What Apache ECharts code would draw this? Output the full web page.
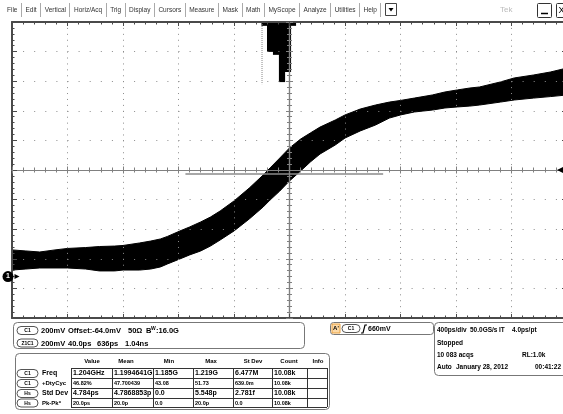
<!DOCTYPE html>
<html><head><meta charset="utf-8">
<script src="https://cdn.jsdelivr.net/npm/echarts@6/dist/echarts.min.js"></script>
<style>html,body{margin:0;padding:0;background:#fff}#c{width:563px;height:414px}</style>
</head><body><div id="c"></div>
<script>
// ---- data ----
const menuItems = ['File','Edit','Vertical','Horiz/Acq','Trig','Display','Cursors','Measure','Mask','Math','MyScope','Analyze','Utilities','Help'];
const timePs = [-2000,-1900,-1800,-1690,-1600,-1470,-1370,-1260,-1200,-1080,-1000,-930,-880,-790,-720,-640,-570,-500,-400,-290,-190,-140,-70,0,80,150,220,330,400,510,620,720,800,900,1030,1120,1210,1300,1370,1520,1620,1760,1880,2000];
const upperMv = [-540,-547,-554,-540,-530,-524,-517,-514,-510,-493,-480,-466,-449,-412,-385,-351,-318,-277,-209,-122,-34,14,81,149,209,250,290,338,372,412,439,459,470,486,507,527,541,554,561,595,622,642,662,689];
const lowerMv = [-676,-669,-662,-662,-662,-669,-682,-682,-676,-676,-669,-655,-635,-601,-574,-547,-514,-473,-412,-331,-250,-203,-142,-74,-7,54,108,169,216,264,304,351,372,392,405,419,426,432,439,459,473,486,496,507];
const histBinPs = [-180,-140,-97,-54,-11,25];
const histCounts = [130,1010,1110,2030,1690,130];
const histLeftPs = -198;
const histBoxCount = 2100;
const refLevelMv = -27;
const refStartPs = -750, refEndPs = 675;
const groundMv = -720;
const trigMarkMv = 0;
const ch1Row = ['200mV','Offset:-64.0mV','50\u03A9'];
const bwText = ':16.0G';
const zoomRow = ['200mV','40.0ps','636ps','1.04ns'];
const trigText = '660mV';
const acqRow1 = ['400ps/div','50.0GS/s','IT','4.0ps/pt'];
const acqState = 'Stopped';
const acqCount = '10 083 acqs';
const recLen = 'RL:1.0k';
const acqRow4 = ['Auto','January 28, 2012','00:41:22'];
const measHeaders = ['Value','Mean','Min','Max','St Dev','Count','Info'];
const measNames = ['Freq','+DtyCyc','Std Dev','Pk-Pk*'];
const measSources = ['C1','C1','Hs','Hs'];
const freqRow = ['1.204GHz','1.1994641G','1.185G','1.219G','6.477M','10.08k',''];
const dutyRow = ['46.82%','47.700439','43.08','51.73','639.0m','10.08k',''];
const stdRow = ['4.784ps','4.7868853p','0.0','5.548p','2.781f','10.08k',''];
const pkpkRow = ['20.0ps','20.0p','0.0','20.0p','0.0','10.08k',''];
const measRows = [freqRow, dutyRow, stdRow, pkpkRow];

// ---- helpers ----
const F = '"Liberation Sans", Arial, sans-serif';
function fontOf(size, bold) { return (bold === false ? '' : 'bold ') + size + 'px ' + F; }
function txt(x, y, s, o) {
  o = o || {};
  return {type:'text', x:x, y:y, silent:true, z:50,
    style:{text:s, fill:o.fill||'#000', font:fontOf(o.size||7.5, o.bold), textAlign:o.align||'left', align:o.align||'left',
      textVerticalAlign:'middle', verticalAlign:'middle'}};
}
function rect(x, y, w, h, o) {
  o = o || {};
  return {type:'rect', silent:true, z:40, shape:{x:x, y:y, width:w, height:h, r:o.r||0},
    style:{fill:o.fill||'#fff', stroke:o.stroke||'#777', lineWidth:o.lw||1}};
}
function line(x1, y1, x2, y2, o) {
  o = o || {};
  return {type:'line', silent:true, z:45, shape:{x1:x1, y1:y1, x2:x2, y2:y2},
    style:{stroke:o.stroke||'#333', lineWidth:o.lw||1}};
}
function pill(x, y, w, h, s) {
  return [rect(x, y, w, h, {r:h/2, stroke:'#555'}), txt(x + w/2, y + h/2 + 0.5, s, {size:5, align:'center'})];
}
const measCtx = document.createElement('canvas').getContext('2d');
function textW(s, font) { measCtx.font = font; return measCtx.measureText(s).width; }

const G = [];
// menu bar
let mx = 7;
const menuFont = fontOf(6.5, false);
menuItems.forEach((m) => {
  G.push(txt(mx, 10, m, {size:6.5, bold:false, fill:'#333'}));
  mx += textW(m, menuFont);
  G.push(line(Math.round(mx + 3.5) + 0.5, 3, Math.round(mx + 3.5) + 0.5, 17, {stroke:'#aaa'}));
  mx += 8;
});
const arrowX = Math.round(mx);
G.push(rect(arrowX + 0.5, 3.5, 11, 12, {stroke:'#444'}));
G.push({type:'polygon', silent:true, z:50, shape:{points:[[arrowX+3.5,8],[arrowX+8.5,8],[arrowX+6,11.5]]}, style:{fill:'#000'}});
G.push(txt(500, 10, 'Tek', {size:8, bold:false, fill:'#bbb'}));
G.push(rect(537.5, 3.5, 14, 14, {stroke:'#333', r:1}));
G.push(line(541, 13.5, 548, 13.5, {stroke:'#000', lw:1.5}));
G.push(rect(556.5, 3.5, 14, 14, {stroke:'#333', r:1}));
G.push(txt(558.5, 10.5, 'X', {size:9, bold:false}));

// channel box
G.push(rect(13.5, 322.5, 291, 26, {r:4}));
G.push(...pill(17, 326.5, 21, 8, 'C1'));
G.push(txt(41, 331, ch1Row[0]));
G.push(txt(68, 331, ch1Row[1]));
G.push(txt(128, 331, ch1Row[2]));
G.push(txt(146, 331, 'B'));
G.push(txt(151, 329, 'W', {size:5}));
G.push(txt(156, 331, bwText));
G.push(...pill(17, 339, 21, 8, 'Z1C1'));
zoomRow.forEach((s, i) => G.push(txt([41,68,97,125][i], 343.5, s)));

// trigger box
G.push(rect(330.5, 322.5, 103, 12, {r:3}));
G.push(rect(332, 324, 8, 9, {fill:'#fcd9a6', stroke:'#e8a040'}));
G.push(txt(336, 328.8, "A'", {size:6, align:'center'}));
G.push(...pill(342, 324.5, 18, 8, 'C1'));
G.push({type:'polyline', silent:true, z:50, shape:{points:[[361,333],[363,333],[365,325],[367,325]]}, style:{stroke:'#000', lineWidth:1.2, fill:null}});
G.push(txt(368, 329, trigText, {size:7}));

// acquisition box
G.push(rect(434.5, 322.5, 135, 53, {r:4}));
acqRow1.forEach((s, i) => G.push(txt([437,470,499,512][i], 330.5, s, {size:6.5})));
G.push(txt(437, 343, acqState, {size:6.5}));
G.push(txt(437, 355, acqCount, {size:6.5}));
G.push(txt(522, 355, recLen, {size:6.5}));
acqRow4.forEach((s, i) => G.push(txt([437,456,535][i], 367, s, {size:6.5})));

// measurement table
G.push(rect(15.5, 353.5, 314, 56, {r:4}));
const hdrX = [92,126,169,211,253,289,318];
measHeaders.forEach((h, i) => G.push(txt(hdrX[i], 361, h, {size:6, align:'center'})));
const colX = [71,112,153,193,233,272,307,327];
const rowY = [368,378,388,398,407];
rowY.forEach(y => G.push(line(colX[0], y + 0.5, colX[colX.length-1], y + 0.5)));
colX.forEach(x => G.push(line(x + 0.5, rowY[0], x + 0.5, rowY[rowY.length-1])));
measRows.forEach((row, r) => {
  const cy = (rowY[r] + rowY[r+1]) / 2 + 0.5;
  const small = (r === 1 || r === 3);
  G.push(...pill(17, cy - 4, 21, 8, measSources[r]));
  G.push(txt(42, cy, measNames[r], {size: small ? 6 : 7}));
  row.forEach((v, c) => { if (v) G.push(txt(colX[c] + 2, cy, v, {size: small ? 5.5 : 7})); });
});

// ---- axes ----
const BORDER = '#4a4a4a', CENTER = '#808080';
function xAx(e) { return Object.assign({type:'value', min:-2000, max:2000, interval:400, z:10, axisLabel:{show:false}, splitLine:{show:false}}, e); }
function yAx(e) { return Object.assign({type:'value', min:-1000, max:1000, interval:200, z:10, axisLabel:{show:false}, splitLine:{show:false}}, e); }
function border(len) {
  return {axisLine:{show:true, onZero:false, lineStyle:{color:BORDER, width:2}},
    axisTick:{show:true, inside:true, length:len, lineStyle:{color:BORDER}},
    minorTick:{show:true, splitNumber:5, length:2.5, lineStyle:{color:BORDER}}};
}
function center(inside) {
  return {axisLine:{show:true, onZero:true, onZeroAxisIndex:0, lineStyle:{color:CENTER, width:1.2}},
    axisTick:{show:true, inside:inside, length:3.5, lineStyle:{color:CENTER}},
    minorTick:{show:true, splitNumber:5, length:2.5, lineStyle:{color:CENTER}}};
}

const option = {
  backgroundColor:'#fff',
  animation:false,
  graphic:{elements:G},
  grid:{left:12, top:22, width:555, height:296, outerBoundsMode:'none', containLabel:false},
  xAxis:[
    xAx(Object.assign({position:'bottom'}, border(4), {splitLine:{show:true, lineStyle:{color:'#8c8c8c', width:1, type:[1,4.92]}}})),
    xAx(Object.assign({position:'top'}, border(4))),
    xAx(Object.assign({position:'bottom'}, center(true))),
    xAx(Object.assign({position:'bottom'}, center(false)))
  ],
  yAxis:[
    yAx(Object.assign({position:'left'}, border(5), {splitLine:{show:true, lineStyle:{color:'#8c8c8c', width:1, type:[1,10.1]}}})),
    yAx(Object.assign({position:'right'}, border(5))),
    yAx(Object.assign({position:'left'}, center(true))),
    yAx(Object.assign({position:'left'}, center(false))),
    {type:'value', inverse:true, min:0, max:10000, show:false}
  ],
  series:[
    // upper envelope filled black down to the bottom of the screen
    {type:'line', name:'upper', xAxisIndex:0, yAxisIndex:0, z:2,
     data: timePs.map((t, i) => [t, upperMv[i]]), showSymbol:false, symbol:'none', silent:true,
     lineStyle:{color:'#000', width:1}, areaStyle:{color:'#000', opacity:1, origin:'start'}},
    // lower envelope: white fill below it leaves only the band
    {type:'line', name:'lower', xAxisIndex:0, yAxisIndex:0, z:3,
     data: timePs.map((t, i) => [t, lowerMv[i]]), showSymbol:false, symbol:'none', silent:true,
     lineStyle:{color:'#000', width:1}, areaStyle:{color:'#fff', opacity:1, origin:'start'}},
    {type:'bar', name:'hist', xAxisIndex:0, yAxisIndex:4, barWidth:6.2, silent:true, z:4,
     data: histBinPs.map((t, i) => [t, histCounts[i]]), itemStyle:{color:'#000'}},
    {type:'line', name:'histBox', xAxisIndex:0, yAxisIndex:4, symbol:'none', silent:true, z:4,
     data:[[histLeftPs, 0], [histLeftPs, histBoxCount]], lineStyle:{color:'#888', width:1, type:[1,1]}},
    {type:'line', name:'refLevel', xAxisIndex:0, yAxisIndex:0, symbol:'none', silent:true, z:12,
     data:[[refStartPs, refLevelMv], [refEndPs, refLevelMv]], lineStyle:{color:'#8a8a8a', width:1.5}},
    {type:'scatter', name:'gnd', xAxisIndex:0, yAxisIndex:0, clip:false, silent:true, z:20,
     data:[[-2000, groundMv]], symbol:'circle', symbolSize:11, symbolOffset:[-4, 0],
     itemStyle:{color:'#000', opacity:1}, label:{show:true, position:'inside', formatter:'1', color:'#fff', fontSize:7, fontWeight:'bold', fontFamily:'Liberation Sans'}},
    {type:'scatter', name:'gndArrow', xAxisIndex:0, yAxisIndex:0, clip:false, silent:true, z:20,
     data:[[-2000, groundMv]], symbol:'triangle', symbolRotate:-90, symbolSize:[5,5], symbolOffset:[5, 0],
     itemStyle:{color:'#000', opacity:1}},
    {type:'scatter', name:'trig', xAxisIndex:0, yAxisIndex:0, clip:false, silent:true, z:20,
     data:[[2000, trigMarkMv]], symbol:'triangle', symbolRotate:90, symbolSize:[6,6], symbolOffset:[-7, 0],
     itemStyle:{color:'#000', opacity:1}}
  ]
};
const chart = echarts.init(document.getElementById('c'));
chart.setOption(option);
</script>
</body></html>
